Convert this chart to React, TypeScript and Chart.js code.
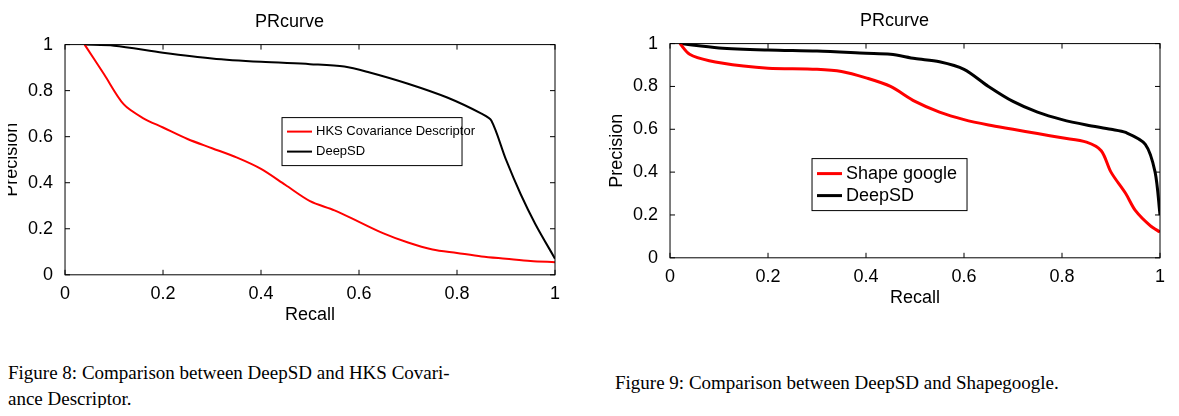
import React, { useEffect, useRef } from 'react';
import { Chart, registerables } from 'chart.js';

Chart.register(...registerables);

// Figure 8
const hksRecall = [0.04, 0.08, 0.12, 0.16, 0.2, 0.25, 0.3, 0.35, 0.4, 0.45, 0.5, 0.55, 0.6, 0.65, 0.7, 0.75, 0.8, 0.85, 0.9, 0.95, 1];
const hksPrecision = [1, 0.87, 0.74, 0.68, 0.64, 0.59, 0.55, 0.51, 0.46, 0.39, 0.32, 0.28, 0.23, 0.18, 0.14, 0.11, 0.095, 0.08, 0.07, 0.06, 0.055];
const deep8Recall = [0.04, 0.1, 0.2, 0.3, 0.4, 0.5, 0.57, 0.62, 0.7, 0.78, 0.85, 0.87, 0.9, 0.93, 0.96, 1];
const deep8Precision = [1, 0.995, 0.965, 0.94, 0.925, 0.915, 0.905, 0.88, 0.83, 0.77, 0.7, 0.67, 0.5, 0.35, 0.22, 0.07];

// Figure 9
const sgRecall = [0.02, 0.04, 0.08, 0.15, 0.2, 0.3, 0.35, 0.4, 0.45, 0.5, 0.55, 0.6, 0.65, 0.7, 0.75, 0.8, 0.85, 0.88, 0.9, 0.93, 0.95, 0.98, 1];
const sgPrecision = [1, 0.95, 0.92, 0.895, 0.885, 0.88, 0.87, 0.84, 0.8, 0.73, 0.68, 0.645, 0.62, 0.6, 0.58, 0.56, 0.54, 0.5, 0.4, 0.3, 0.22, 0.15, 0.12];
const deep9Recall = [0.02, 0.1, 0.2, 0.3, 0.4, 0.45, 0.5, 0.55, 0.6, 0.65, 0.7, 0.75, 0.8, 0.85, 0.9, 0.93, 0.97, 0.99, 1];
const deep9Precision = [1, 0.98, 0.97, 0.965, 0.955, 0.95, 0.93, 0.915, 0.88, 0.8, 0.73, 0.68, 0.645, 0.62, 0.6, 0.585, 0.53, 0.4, 0.2];

const FONT = '"Liberation Sans", Arial, sans-serif';

const zip = (xs: number[], ys: number[]) => xs.map((x, i) => ({ x, y: ys[i] }));

interface PRProps {
  series: { label: string; x: number[]; y: number[]; color: string; width: number }[];
  legend: { x: number; y: number; w: number; fontSize: number; rowH: number };
  width: number;
  height: number;
  padTop: number;
}

const PRChart: React.FC<PRProps> = ({ series, legend, width, height, padTop }) => {
  const ref = useRef<HTMLCanvasElement>(null);
  useEffect(() => {
    if (!ref.current) return;
    const boxPlugin = {
      id: 'box',
      afterDatasetsDraw(chart: any) {
        const { ctx, chartArea: a } = chart;
        ctx.save();
        ctx.strokeStyle = '#000';
        ctx.lineWidth = 1;
        ctx.strokeRect(a.left, a.top, a.right - a.left, a.bottom - a.top);
        // inward ticks
        const xs = chart.scales.x, ys = chart.scales.y;
        ctx.beginPath();
        for (let v = 0; v <= 1.0001; v += 0.2) {
          const px = xs.getPixelForValue(v), py = ys.getPixelForValue(v);
          ctx.moveTo(px, a.bottom); ctx.lineTo(px, a.bottom - 5);
          ctx.moveTo(px, a.top); ctx.lineTo(px, a.top + 5);
          ctx.moveTo(a.left, py); ctx.lineTo(a.left + 5, py);
          ctx.moveTo(a.right, py); ctx.lineTo(a.right - 5, py);
        }
        ctx.stroke();
        // y axis title
        ctx.save();
        ctx.translate(12, (a.top + a.bottom) / 2);
        ctx.rotate(-Math.PI / 2);
        ctx.font = `18px ${FONT}`;
        ctx.fillStyle = '#000';
        ctx.textAlign = 'center';
        ctx.textBaseline = 'middle';
        ctx.fillText('Precision', 0, 0);
        ctx.restore();
        // legend
        const lx = a.left + legend.x, ly = a.top + legend.y;
        const h = legend.rowH * series.length + 8;
        ctx.fillStyle = '#fff';
        ctx.fillRect(lx, ly, legend.w, h);
        ctx.strokeRect(lx, ly, legend.w, h);
        ctx.font = `${legend.fontSize}px ${FONT}`;
        ctx.textBaseline = 'middle';
        series.forEach((s, i) => {
          const yy = ly + 4 + legend.rowH * (i + 0.5);
          ctx.strokeStyle = s.color;
          ctx.lineWidth = s.width;
          ctx.beginPath(); ctx.moveTo(lx + 5, yy); ctx.lineTo(lx + 30, yy); ctx.stroke();
          ctx.fillStyle = '#000';
          ctx.fillText(s.label, lx + 34, yy);
        });
        ctx.restore();
      },
    };
    const axisFont = { family: FONT, size: 18 };
    const chart = new Chart(ref.current, {
      type: 'line',
      data: {
        datasets: series.map(s => ({
          label: s.label,
          data: zip(s.x, s.y),
          borderColor: s.color,
          borderWidth: s.width,
          pointRadius: 0,
          tension: 0.3,
          fill: false,
        })),
      },
      options: {
        animation: false,
        responsive: false,
        layout: { padding: { right: 20, top: padTop, left: 24 } },
        plugins: {
          legend: { display: false },
          tooltip: { enabled: false },
          title: { display: true, text: 'PRcurve', color: '#000', font: { family: FONT, size: 18, weight: 'normal' }, padding: { top: 8, bottom: 12 } },
        },
        scales: {
          x: {
            type: 'linear', min: 0, max: 1,
            ticks: { stepSize: 0.2, color: '#000', font: axisFont, maxRotation: 0, padding: 0, callback: (v: any) => String(Math.round(v * 10) / 10) },
            grid: { display: false },
            border: { display: false },
            title: { display: true, text: 'Recall', color: '#000', font: axisFont, padding: 0 },
          },
          y: {
            type: 'linear', min: 0, max: 1,
            ticks: { stepSize: 0.2, color: '#000', font: axisFont, padding: 4, callback: (v: any) => String(Math.round(v * 10) / 10) },
            grid: { display: false },
            border: { display: false },
          },
        },
      },
      plugins: [boxPlugin],
    } as any);
    return () => chart.destroy();
  }, []);
  return <canvas ref={ref} width={width} height={height} style={{ display: 'block' }} />;
};

export default function App() {
  const cap: React.CSSProperties = { position: 'absolute', fontFamily: '"Liberation Serif", "Times New Roman", serif', fontSize: 19, lineHeight: '26px', color: '#000', margin: 0 };
  return (
    <div style={{ position: 'relative', width: 1179, height: 416, margin: -8, background: '#fff', overflow: 'hidden' }}>
      <div style={{ position: 'absolute', left: 0, top: 0 }}>
        <PRChart
          width={575} height={326} padTop={3}
          series={[
            { label: 'HKS Covariance Descriptor', x: hksRecall, y: hksPrecision, color: '#ff0000', width: 2 },
            { label: 'DeepSD', x: deep8Recall, y: deep8Precision, color: '#000', width: 2 },
          ]}
          legend={{ x: 217, y: 73, w: 180, fontSize: 13, rowH: 20 }}
        />
      </div>
      <div style={{ position: 'absolute', left: 605, top: 0 }}>
        <PRChart
          width={575} height={309} padTop={2}
          series={[
            { label: 'Shape google', x: sgRecall, y: sgPrecision, color: '#ff0000', width: 3 },
            { label: 'DeepSD', x: deep9Recall, y: deep9Precision, color: '#000', width: 3 },
          ]}
          legend={{ x: 142, y: 115, w: 155, fontSize: 18, rowH: 22 }}
        />
      </div>
      <p style={{ ...cap, left: 8, top: 360, width: 555 }}>
        Figure 8: Comparison between DeepSD and HKS Covari-<br />ance Descriptor.
      </p>
      <p style={{ ...cap, left: 615, top: 370 }}>Figure 9: Comparison between DeepSD and Shapegoogle.</p>
    </div>
  );
}
